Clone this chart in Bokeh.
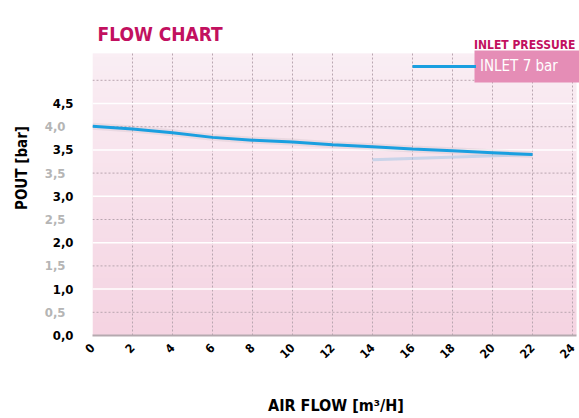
import numpy as np
from bokeh.plotting import figure
from bokeh.models import (FixedTicker, Range1d, Legend, LegendItem, Label,
                          LinearAxis, BoxAnnotation)
from bokeh.embed import file_html
from bokeh.resources import INLINE

# ---- data ----
flow = [0, 2, 4, 6, 8, 10, 12, 14, 16, 18, 20, 22]
pout = [4.51, 4.45, 4.37, 4.27, 4.21, 4.17, 4.11, 4.07, 4.02, 3.98, 3.94, 3.90]
faint_flow = [14, 22]
faint_pout = [3.79, 3.90]

x_ticks = [0, 2, 4, 6, 8, 10, 12, 14, 16, 18, 20, 22, 24]
y_major = [0, 1, 2, 3, 4, 5]
y_major_labels = ["0,0", "1,0", "2,0", "3,0", "3,5", "4,5"]
y_minor = [0.5, 1.5, 2.5, 3.5, 4.5]
y_minor_labels = ["0,5", "1,5", "2,5", "3,5", "4,0"]
y_dotted = [0.5, 1.5, 2.5, 3.5, 4.5, 5.5]

X_MAX, Y_MAX = 24.2, 6.08          # extent of the pink plotting area

FONT = "'DejaVu Sans Condensed', 'Liberation Sans Narrow', 'Roboto Condensed', Roboto"
MAGENTA = "#c2105f"
BLUE = "#1a9fe0"
GRID = "#b9a6b0"

p = figure(width=579, height=418, output_backend="svg", toolbar_location=None,
           x_range=Range1d(0, 24.35), y_range=Range1d(0, 7.22),
           min_border_left=92, min_border_right=0, min_border_top=0,
           min_border_bottom=83)
p.outline_line_color = None
p.background_fill_color = "white"
p.border_fill_color = "white"
p.xgrid.visible = False
p.ygrid.visible = False

# gradient plotting area
n = 64
grad = np.zeros((n, 1), dtype=np.uint32)
view = grad.view(dtype=np.uint8).reshape((n, 1, 4))
top = np.array([0xfa, 0xee, 0xf4]); bot = np.array([0xf5, 0xd4, 0xe2])
for i in range(n):
    t = i / (n - 1)
    view[i, 0, 0:3] = (bot * (1 - t) + top * t).astype(np.uint8)
    view[i, 0, 3] = 255
p.image_rgba(image=[grad], x=0, y=0, dw=X_MAX, dh=Y_MAX)

# grid lines restricted to the pink area
vx = x_ticks[1:]
p.segment(x0=vx, y0=[0] * len(vx), x1=vx, y1=[Y_MAX] * len(vx),
          line_color=GRID, line_dash="2 2", line_width=1)
hy = y_major[1:]
p.segment(x0=[0] * len(hy), y0=hy, x1=[X_MAX] * len(hy), y1=hy,
          line_color="white", line_width=1.5)
p.segment(x0=[0] * len(y_dotted), y0=y_dotted, x1=[X_MAX] * len(y_dotted), y1=y_dotted,
          line_color=GRID, line_dash="2 2", line_width=1)

# x axis
p.xaxis.ticker = FixedTicker(ticks=x_ticks)
p.xaxis.bounds = (0, X_MAX)
p.xaxis.major_label_orientation = np.pi / 4
p.xaxis.major_label_text_font = FONT
p.xaxis.major_label_text_font_style = "bold"
p.xaxis.major_label_text_font_size = "12px"
p.xaxis.major_label_text_color = "black"
p.xaxis.major_tick_line_color = None
p.xaxis.major_tick_out = 0
p.xaxis.minor_tick_line_color = None
p.xaxis.axis_line_color = "#b5a9af"
p.xaxis.axis_line_width = 2
p.xaxis.major_label_standoff = 10
p.xaxis.axis_label = "AIR FLOW [m³/H]"
p.xaxis.axis_label_text_font = FONT
p.xaxis.axis_label_text_font_style = "bold"
p.xaxis.axis_label_text_font_size = "16px"
p.xaxis.axis_label_text_color = "black"
p.xaxis.axis_label_standoff = 31

# y axis (black labels)
p.yaxis.ticker = FixedTicker(ticks=y_major)
p.yaxis.bounds = (0, Y_MAX)
p.yaxis.major_label_overrides = {v: s for v, s in zip(y_major, y_major_labels)}
p.yaxis.major_label_text_font = FONT
p.yaxis.major_label_text_font_style = "bold"
p.yaxis.major_label_text_font_size = "13px"
p.yaxis.major_label_text_color = "black"
p.yaxis.major_tick_line_color = None
p.yaxis.major_tick_out = 0
p.yaxis.minor_tick_line_color = None
p.yaxis.axis_line_color = None
p.yaxis.major_label_standoff = 19

# second y axis (grey labels)
gax = LinearAxis(ticker=FixedTicker(ticks=y_minor), bounds=(0, Y_MAX),
                 major_label_overrides={v: s for v, s in zip(y_minor, y_minor_labels)},
                 major_label_text_font=FONT, major_label_text_font_style="bold",
                 major_label_text_font_size="13px", major_label_text_color="#b5b5b5",
                 major_tick_line_color=None, major_tick_out=0,
                 minor_tick_line_color=None, axis_line_color=None,
                 major_label_standoff=-16,
                 axis_label="POUT [bar]", axis_label_text_font=FONT,
                 axis_label_text_font_style="bold", axis_label_text_font_size="15px",
                 axis_label_text_color="black", axis_label_standoff=11)
p.add_layout(gax, "left")

# lines
p.line(flow, pout, line_color="#8a7f85", line_width=7, line_alpha=0.12)
p.line(faint_flow, faint_pout, line_color="#9cc3e6", line_width=3, line_alpha=0.5)
r = p.line(flow, pout, line_color=BLUE, line_width=3)

# titles
p.add_layout(Label(x=5, y=302, x_units="screen", y_units="screen",
                   text="FLOW CHART", text_align="left", text_baseline="alphabetic",
                   text_font=FONT, text_font_style="bold", text_font_size="19px",
                   text_color=MAGENTA))
p.add_layout(Label(x=483, y=291, x_units="screen", y_units="screen",
                   text="INLET PRESSURE", text_align="right",
                   text_baseline="alphabetic", text_font=FONT,
                   text_font_style="bold", text_font_size="12px",
                   text_color=MAGENTA))

# legend
p.add_layout(BoxAnnotation(left=382, right=490, top=285, bottom=253,
                           left_units="screen", right_units="screen",
                           top_units="screen", bottom_units="screen",
                           fill_color="#e58db6", fill_alpha=1, line_color=None,
                           level="overlay"))
legend = Legend(items=[LegendItem(label="INLET 7 bar", renderers=[r])],
                location=(320, 259), glyph_width=64, glyph_height=20,
                label_standoff=4, padding=0, margin=0, spacing=0,
                background_fill_alpha=0, border_line_color=None,
                label_text_color="white", label_text_font=FONT,
                label_text_font_size="15px", label_height=20)
p.add_layout(legend)

open("out.html", "w").write(file_html(p, INLINE))
